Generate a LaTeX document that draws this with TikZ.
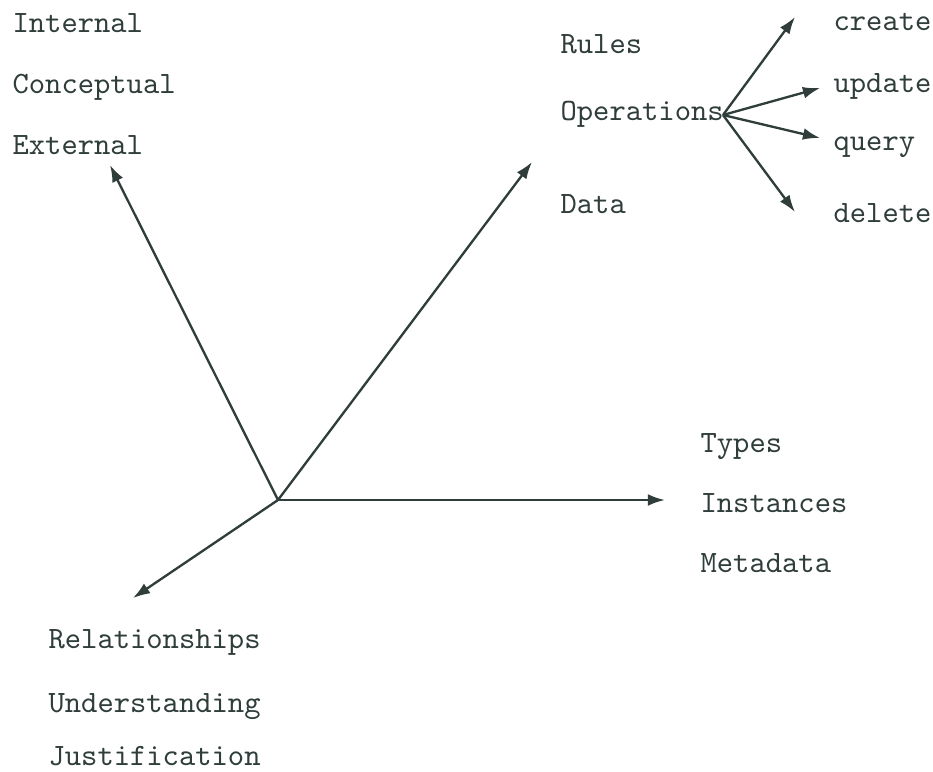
\documentclass[tikz,border=0pt]{standalone}
\usepackage{tikz}
\usetikzlibrary{arrows.meta}
\definecolor{ink}{HTML}{2F3D3B}
\tikzset{lbl/.style={anchor=base west,inner sep=0pt,font=\ttfamily,text=ink},
  axis/.style={->,>={Latex[length=5.5pt,width=3.8pt]},draw=ink,line width=0.75pt}}
\begin{document}
\begin{tikzpicture}[x=0.322pt,y=-0.322pt]
\useasboundingbox (0,0) rectangle (933,771);
% axes
\coordinate (o) at (278,500);
\coordinate (lev) at (110,165);
\coordinate (kind) at (532,162);
\coordinate (inst) at (665,500);
\coordinate (rel) at (133,598);
\draw[axis] (o) -- (lev);
\draw[axis] (o) -- (kind);
\draw[axis] (o) -- (inst);
\draw[axis] (o) -- (rel);
% left labels
\node[lbl] (internal) at (12,32) {Internal};
\node[lbl] (conceptual) at (12,93) {Conceptual};
\node[lbl] (external) at (12,154) {External};
% upper labels
\node[lbl] (rules) at (560,53) {Rules};
\node[lbl] (operations) at (560,120) {Operations};
\node[lbl] (data) at (560,213) {Data};
% operations fan
\coordinate (fan) at (723,115);
\coordinate (c1) at (795,17);
\coordinate (c2) at (820,88);
\coordinate (c3) at (820,138);
\coordinate (c4) at (795,212);
\draw[axis] (fan) -- (c1);
\draw[axis] (fan) -- (c2);
\draw[axis] (fan) -- (c3);
\draw[axis] (fan) -- (c4);
\node[lbl] (create) at (833,30) {create};
\node[lbl] (update) at (833,92) {update};
\node[lbl] (query) at (833,150) {query};
\node[lbl] (delete) at (833,222) {delete};
% right labels
\node[lbl] (types) at (700,452) {Types};
\node[lbl] (instances) at (700,512) {Instances};
\node[lbl] (metadata) at (700,572) {Metadata};
% bottom labels
\node[lbl] (relationships) at (48,648) {Relationships};
\node[lbl] (understanding) at (48,712) {Understanding};
\node[lbl] (justification) at (48,765) {Justification};
\end{tikzpicture}
\end{document}
